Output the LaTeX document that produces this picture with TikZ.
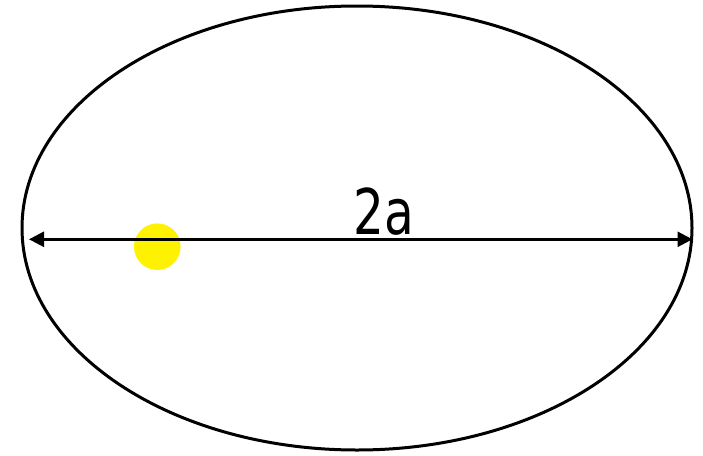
\documentclass[tikz,border=0pt]{standalone}
\usepackage{fontspec}
\newfontfamily\labfont[FakeStretch=0.77]{DejaVu Sans}
\usetikzlibrary{arrows.meta}
\tikzset{
  orbit/.style={draw=black, line width=3pt},
  axisarrow/.style={draw=black, line width=2.6pt, {Triangle[length=15pt,width=15pt]}-{Triangle[length=15pt,width=15pt]}},
  sun/.style={circle, fill=yellow, inner sep=0pt, minimum size=46.6pt},
  axislabel/.style={font=\labfont\fontsize{63}{63}\selectfont, inner sep=0pt, anchor=base}
}
\begin{document}
\begin{tikzpicture}[x=1pt,y=-1pt]
  \useasboundingbox[fill=white] (0,0) rectangle (703,455);
  \draw[orbit] (357,228) ellipse [x radius=335, y radius=222];
  \coordinate (L) at (29,239.3);
  \coordinate (R) at (692.5,239.3);
  \node[sun] (s) at (157.3,246.7) {};
  \draw[axisarrow] (L) -- (R);
  \node[axislabel] (t) at (383.5,234) {2a};
\end{tikzpicture}
\end{document}
